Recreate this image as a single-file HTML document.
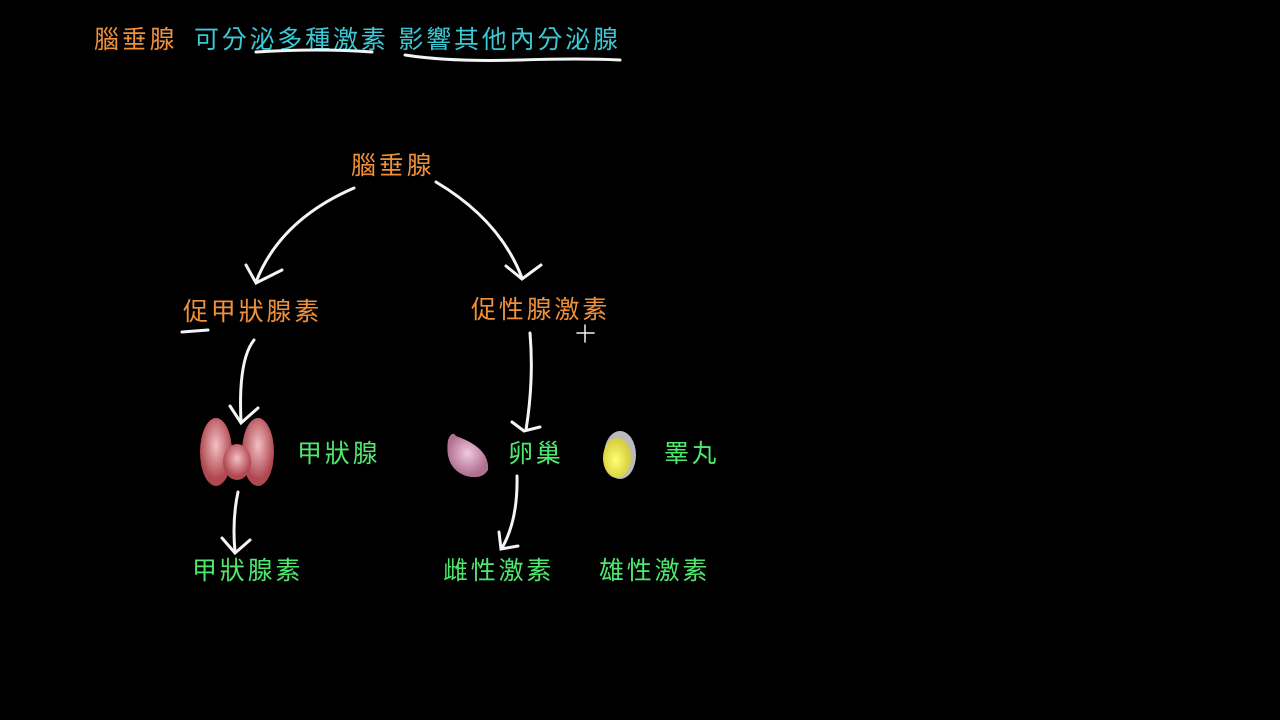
<!DOCTYPE html>
<html><head><meta charset="utf-8"><style>
body{margin:0;width:1280px;height:720px;background:#000;position:relative;overflow:hidden;font-family:"Liberation Sans","Noto Sans CJK TC","Noto Sans CJK SC",sans-serif;}
.t{position:absolute;font-size:25px;line-height:30px;white-space:nowrap;letter-spacing:2.8px}
.o{color:#f0903a}.c{color:#3cc8d4}.g{color:#4ee86e}
svg{position:absolute;left:0;top:0}
</style></head><body>
<div class="t o" style="left:94px;top:25px">腦垂腺</div>
<div class="t c" style="left:194px;top:25px">可分泌多種激素 影響其他內分泌腺</div>
<div class="t o" style="left:351px;top:151px">腦垂腺</div>
<div class="t o" style="left:183px;top:297px">促甲狀腺素</div>
<div class="t o" style="left:471px;top:295px">促性腺激素</div>
<div class="t g" style="left:297px;top:439px">甲狀腺</div>
<div class="t g" style="left:508px;top:439px">卵巢</div>
<div class="t g" style="left:664px;top:439px">睪丸</div>
<div class="t g" style="left:192px;top:556px">甲狀腺素</div>
<div class="t g" style="left:443px;top:556px">雌性激素</div>
<div class="t g" style="left:599px;top:556px">雄性激素</div>
<svg width="1280" height="720" fill="none" stroke="#f4f4f4" stroke-width="3" stroke-linecap="round">
<path d="M256 52 Q320 48 372 52"/>
<path d="M405 55 Q450 62 520 60 Q580 58 620 60"/>
<path d="M182 332 L208 330"/>
<path d="M354 188 Q280 220 256 282"/><path d="M246 265 L256 283 L282 270"/>
<path d="M436 182 Q500 220 522 278"/><path d="M506 266 L522 279 L541 265"/>
<path d="M254 340 Q238 360 241 422"/><path d="M230 406 L241 423 L258 408"/>
<path d="M530 333 Q534 380 526 430"/><path d="M512 422 L524 431 L540 427"/>
<path d="M238 492 Q232 520 235 552"/><path d="M222 538 L235 553 L250 540"/>
<path d="M517 476 Q518 520 502 548"/><path d="M499 532 L501 549 L518 546"/>
<path d="M585 325 V342 M577 333 H594" stroke-width="1.5"/>
<defs><radialGradient id="p" cx="50%" cy="40%"><stop offset="0" stop-color="#f2c0c4"/><stop offset="1" stop-color="#b04850"/></radialGradient>
<radialGradient id="v" cx="50%" cy="45%"><stop offset="0" stop-color="#f0c8e0"/><stop offset="1" stop-color="#b07090"/></radialGradient>
<radialGradient id="y" cx="45%" cy="55%"><stop offset="0" stop-color="#ffff70"/><stop offset="1" stop-color="#d8d040"/></radialGradient></defs>
<g stroke="none">
<ellipse cx="216" cy="452" rx="16" ry="34" fill="url(#p)"/>
<ellipse cx="258" cy="452" rx="16" ry="34" fill="url(#p)"/>
<ellipse cx="237" cy="462" rx="14" ry="18" fill="url(#p)"/>
<path d="M448 440 Q452 430 456 436 Q490 448 488 470 Q482 480 466 476 Q444 468 448 440Z" fill="url(#v)"/>
<ellipse cx="620" cy="455" rx="16" ry="24" fill="#bbbbbb"/>
<ellipse cx="617" cy="458" rx="14" ry="20" fill="url(#y)"/>
</g>
</svg>
</body></html>
